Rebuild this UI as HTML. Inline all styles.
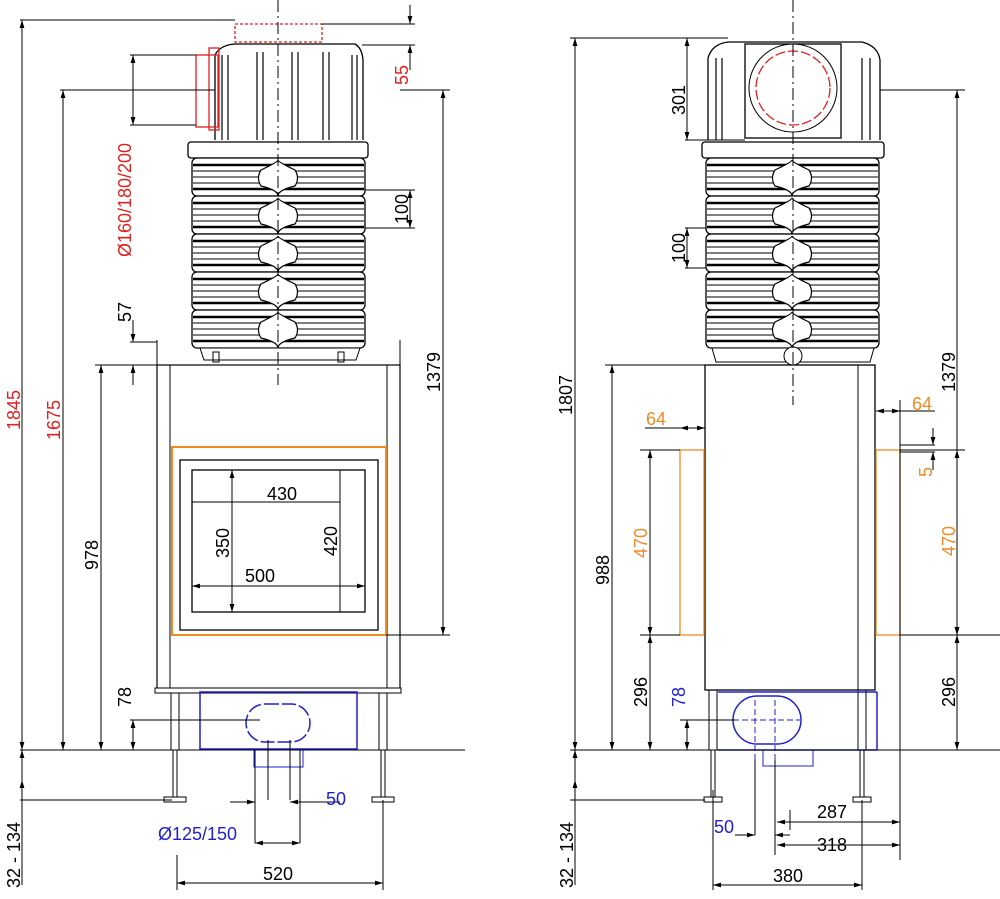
<!DOCTYPE html>
<html><head><meta charset="utf-8"><style>
html,body{margin:0;padding:0;background:#fff;}
svg{display:block;font-family:"Liberation Sans",sans-serif;}
</style></head><body>
<svg width="1000" height="899" viewBox="0 0 1000 899" xmlns="http://www.w3.org/2000/svg">
<defs>
<marker id="a" viewBox="0 0 10 10" refX="10" refY="5" markerWidth="8" markerHeight="8" orient="auto-start-reverse"><path d="M0,2 L10,5 L0,8z" fill="#000"/></marker>
<g id="ringL">
  <rect x="0" y="0" width="173" height="38" rx="5" fill="#fff" stroke="#000" stroke-width="1.3"/>
  <line x1="1" y1="7" x2="172" y2="7" stroke="#000" stroke-width="2.5"/>
  <line x1="1" y1="13" x2="172" y2="13" stroke="#000"/>
  <line x1="1" y1="19" x2="172" y2="19" stroke="#000"/>
  <line x1="1" y1="25" x2="172" y2="25" stroke="#000"/>
  <line x1="1" y1="31" x2="172" y2="31" stroke="#000" stroke-width="2.5"/>
  <path d="M69,12 Q86,4 86,2 Q86,4 103,12 Q108,20 103,28 Q86,32 86,38 Q86,32 69,28 Q64,20 69,12z" fill="#fff" stroke="#000" stroke-width="1.2"/>
</g>
</defs>
<g stroke="#000" fill="none" stroke-width="1">
<path d="M215,140 L215,55 Q220,45 235,44 L355,44 Q362,48 363,60 L363,140" fill="#fff" stroke-width="1.3"/>
<g stroke-width="1.2">
<path d="M222,140 V55 M228,140 V55 M257,140 V52 M263,140 V52 M292,140 V52 M298,140 V52 M323,140 V52 M329,140 V52 M352,140 V55 M357,140 V55"/>
</g>
<rect x="188" y="142" width="180" height="16" rx="3" fill="#fff" stroke-width="1.3"/>
<use href="#ringL" x="192" y="158"/>
<use href="#ringL" x="192" y="196"/>
<use href="#ringL" x="192" y="234"/>
<use href="#ringL" x="192" y="272"/>
<use href="#ringL" x="192" y="310"/>
<path d="M200,348 L360,348 L356,360 L204,360z" fill="#fff"/>
<rect x="213" y="352" width="6" height="10"/><rect x="338" y="352" width="6" height="10"/>
<rect x="157" y="365" width="243" height="325" stroke-width="1.2"/>
<line x1="170" y1="365" x2="170" y2="688"/><line x1="387" y1="365" x2="387" y2="688"/>
<line x1="157" y1="340" x2="157" y2="365"/><line x1="400" y1="340" x2="400" y2="365"/>
<rect x="155" y="688" width="246" height="5" fill="#fff"/>
<rect x="180" y="460" width="198" height="170" stroke-width="1.3"/>
<rect x="192" y="470" width="173" height="142" stroke-width="1.3"/>
<rect x="172" y="447" width="214" height="188" stroke="#f08a24" stroke-width="2"/>
<rect x="171" y="693" width="8" height="57"/><rect x="379" y="693" width="8" height="57"/>
<path d="M173,750 V800 M177,750 V800 M381,750 V800 M385,750 V800"/>
<rect x="164" y="797" width="22" height="5" fill="#fff"/><rect x="372" y="797" width="22" height="5" fill="#fff"/>
<g stroke="#2020d0" stroke-width="1.5">
<rect x="200" y="692" width="157" height="57"/>
<path d="M265,704 h26 a19,19 0 0 1 0,38 h-26 a19,19 0 0 1 0,-38z" stroke-dasharray="14 3"/>
<rect x="254" y="749" width="49" height="18" stroke-width="1"/>
</g>
<path d="M708,140 L708,58 Q712,44 728,42 L862,42 Q878,46 880,60 L880,140" fill="#fff" stroke-width="1.3"/>
<path d="M716,140 V58 M722,140 V58 M862,140 V58 M870,140 V58" stroke-width="1.2"/>
<rect x="745" y="44" width="96" height="94" fill="#fff" stroke-width="1.3"/>
<circle cx="793" cy="88" r="44" fill="#fff"/>
<rect x="702" y="142" width="182" height="16" rx="3" fill="#fff" stroke-width="1.3"/>
<use href="#ringL" x="706" y="158"/>
<use href="#ringL" x="706" y="196"/>
<use href="#ringL" x="706" y="234"/>
<use href="#ringL" x="706" y="272"/>
<use href="#ringL" x="706" y="310"/>
<path d="M712,348 L874,348 L870,362 L716,362z" fill="#fff"/>
<circle cx="793" cy="356" r="9" fill="#fff"/>
<rect x="705" y="365" width="170" height="325" stroke-width="1.3" fill="#fff"/>
<line x1="858" y1="365" x2="858" y2="690"/>
<g stroke="#f08a24" stroke-width="1.3">
<rect x="680" y="450" width="24" height="185"/><rect x="876" y="450" width="24" height="185"/>
</g>
<rect x="709" y="690" width="8" height="60"/><rect x="858" y="690" width="8" height="60"/>
<path d="M711,750 V800 M715,750 V800 M860,750 V800 M864,750 V800"/>
<rect x="704" y="797" width="18" height="5" fill="#fff"/><rect x="853" y="797" width="18" height="5" fill="#fff"/>
<g stroke="#2020d0" stroke-width="1.5">
<line x1="718" y1="692" x2="877" y2="692"/><line x1="718" y1="750" x2="877" y2="750"/><line x1="877" y1="692" x2="877" y2="750"/>
<path d="M757,696 h20 a24,24 0 0 1 0,48 h-20 a24,24 0 0 1 0,-48z"/>
<rect x="763" y="750" width="50" height="16" stroke-width="1"/>
<path d="M755,700 V760 M775,700 V760 M733,720 H800" stroke-dasharray="6 3" stroke-width="1"/>
</g>
</g>
<g stroke="#e02020" fill="none" stroke-width="1.3">
<rect x="235" y="24" width="87" height="18" stroke-dasharray="3 2"/>
<rect x="196" y="55" width="22" height="72"/><rect x="209" y="48" width="10" height="82"/>
<circle cx="793" cy="88" r="37" stroke-dasharray="10 3"/>
</g>
<g stroke="#000" stroke-dasharray="12 4 2 4" stroke-width="1">
<line x1="278" y1="0" x2="278" y2="385"/>
<line x1="793" y1="0" x2="793" y2="405"/>
</g>
<g stroke="#000" stroke-width="1" fill="none">
<path d="M20,750 H465 M20,800 H172 M60,90 H215 M95,365 H157 M130,342 H157 M130,55 H196 M130,125 H196 M20,20 H235 M322,24 H415 M362,45 H415 M365,190 H415 M365,228 H415 M400,90 H450 M386,635 H450 M130,720 H260"/>
<path d="M570,750 H1000 M570,800 H705 M570,38 H728 M685,140 H745 M685,228 H706 M685,268 H706 M605,365 H705 M640,450 H680 M640,635 H680 M880,90 H965 M900,450 H965 M900,635 H1000 M680,720 H735"/>
<line x1="22" y1="20" x2="22" y2="750" marker-start="url(#a)" marker-end="url(#a)"/>
<line x1="63" y1="90" x2="63" y2="750" marker-start="url(#a)" marker-end="url(#a)"/>
<line x1="101" y1="365" x2="101" y2="750" marker-start="url(#a)" marker-end="url(#a)"/>
<line x1="133" y1="720" x2="133" y2="750" marker-start="url(#a)" marker-end="url(#a)"/>
<line x1="133" y1="320" x2="133" y2="342" marker-end="url(#a)"/><line x1="133" y1="385" x2="133" y2="365" marker-end="url(#a)"/>
<line x1="133" y1="55" x2="133" y2="125" marker-start="url(#a)" marker-end="url(#a)"/>
<line x1="410" y1="5" x2="410" y2="24" marker-end="url(#a)"/><line x1="410" y1="70" x2="410" y2="45" marker-end="url(#a)"/>
<line x1="410" y1="190" x2="410" y2="228" marker-start="url(#a)" marker-end="url(#a)"/>
<line x1="443" y1="90" x2="443" y2="635" marker-start="url(#a)" marker-end="url(#a)"/>
<line x1="22" y1="750" x2="22" y2="885" marker-start="url(#a)"/><line x1="22" y1="800" x2="22" y2="780" marker-end="url(#a)"/>
<line x1="192" y1="586" x2="365" y2="586" marker-start="url(#a)" marker-end="url(#a)"/>
<line x1="192" y1="502" x2="340" y2="502"/><line x1="232" y1="470" x2="232" y2="612" marker-start="url(#a)" marker-end="url(#a)"/>
<line x1="340" y1="470" x2="340" y2="612"/>
<line x1="230" y1="802" x2="255" y2="802" marker-end="url(#a)"/><line x1="340" y1="802" x2="290" y2="802" marker-end="url(#a)"/>
<path d="M255,750 V843 M300,750 V843 M268,740 V800 M290,740 V800"/>
<line x1="255" y1="843" x2="300" y2="843" marker-start="url(#a)" marker-end="url(#a)"/>
<path d="M177,855 V890 M383,800 V890"/>
<line x1="177" y1="883" x2="383" y2="883" marker-start="url(#a)" marker-end="url(#a)"/>
<line x1="575" y1="38" x2="575" y2="750" marker-start="url(#a)" marker-end="url(#a)"/>
<line x1="612" y1="365" x2="612" y2="750" marker-start="url(#a)" marker-end="url(#a)"/>
<line x1="650" y1="450" x2="650" y2="635" marker-start="url(#a)" marker-end="url(#a)"/>
<line x1="650" y1="635" x2="650" y2="750" marker-start="url(#a)" marker-end="url(#a)"/>
<line x1="687" y1="720" x2="687" y2="750" marker-start="url(#a)" marker-end="url(#a)"/>
<line x1="687" y1="38" x2="687" y2="140" marker-start="url(#a)" marker-end="url(#a)"/>
<line x1="687" y1="228" x2="687" y2="268" marker-start="url(#a)" marker-end="url(#a)"/>
<line x1="957" y1="90" x2="957" y2="635" marker-start="url(#a)" marker-end="url(#a)"/>
<line x1="957" y1="450" x2="957" y2="635" marker-start="url(#a)" marker-end="url(#a)"/>
<line x1="957" y1="635" x2="957" y2="750" marker-start="url(#a)" marker-end="url(#a)"/>
<line x1="575" y1="750" x2="575" y2="885" marker-start="url(#a)"/><line x1="575" y1="800" x2="575" y2="780" marker-end="url(#a)"/>
<line x1="680" y1="428" x2="705" y2="428" marker-start="url(#a)" marker-end="url(#a)"/><line x1="645" y1="428" x2="680" y2="428"/>
<line x1="876" y1="411" x2="900" y2="411" marker-start="url(#a)" marker-end="url(#a)"/><line x1="900" y1="411" x2="935" y2="411"/>
<line x1="900" y1="400" x2="900" y2="860"/>
<line x1="933" y1="428" x2="933" y2="445" marker-end="url(#a)"/><line x1="933" y1="470" x2="933" y2="452" marker-end="url(#a)"/>
<path d="M900,445 H935 M900,452 H935"/>
<path d="M713,790 V890 M862,800 V890 M755,760 V835 M775,760 V855 M790,810 V830"/>
<line x1="777" y1="822" x2="900" y2="822" marker-start="url(#a)" marker-end="url(#a)"/>
<line x1="777" y1="845" x2="900" y2="845" marker-start="url(#a)" marker-end="url(#a)"/>
<line x1="713" y1="885" x2="862" y2="885" marker-start="url(#a)" marker-end="url(#a)"/>
<line x1="735" y1="835" x2="755" y2="835" marker-end="url(#a)"/><line x1="790" y1="835" x2="775" y2="835" marker-end="url(#a)"/>
</g>
<g font-size="18" fill="#000">
<text transform="translate(20,410) rotate(-90)" fill="#e02020" text-anchor="middle">1845</text>
<text transform="translate(60,420) rotate(-90)" fill="#e02020" text-anchor="middle">1675</text>
<text transform="translate(98,555) rotate(-90)" text-anchor="middle">978</text>
<text transform="translate(131,697) rotate(-90)" text-anchor="middle">78</text>
<text transform="translate(131,312) rotate(-90)" text-anchor="middle">57</text>
<text transform="translate(131,200) rotate(-90)" fill="#e02020" text-anchor="middle">Ø160/180/200</text>
<text transform="translate(408,75) rotate(-90)" fill="#e02020" text-anchor="middle">55</text>
<text transform="translate(408,209) rotate(-90)" text-anchor="middle">100</text>
<text transform="translate(440,372) rotate(-90)" text-anchor="middle">1379</text>
<text transform="translate(20,855) rotate(-90)" text-anchor="middle">32 - 134</text>
<text x="282" y="500" text-anchor="middle">430</text>
<text x="260" y="582" text-anchor="middle">500</text>
<text transform="translate(229,543) rotate(-90)" text-anchor="middle">350</text>
<text transform="translate(337,541) rotate(-90)" text-anchor="middle">420</text>
<text x="326" y="805" fill="#2020d0">50</text>
<text x="158" y="840" fill="#2020d0">Ø125/150</text>
<text x="278" y="880" text-anchor="middle">520</text>
<text transform="translate(572,395) rotate(-90)" text-anchor="middle">1807</text>
<text transform="translate(609,570) rotate(-90)" text-anchor="middle">988</text>
<text transform="translate(647,543) rotate(-90)" fill="#f08a24" text-anchor="middle">470</text>
<text transform="translate(647,692) rotate(-90)" text-anchor="middle">296</text>
<text transform="translate(685,697) rotate(-90)" fill="#2020d0" text-anchor="middle">78</text>
<text transform="translate(685,100) rotate(-90)" text-anchor="middle">301</text>
<text transform="translate(685,248) rotate(-90)" text-anchor="middle">100</text>
<text x="646" y="425" fill="#f08a24">64</text>
<text x="912" y="410" fill="#f08a24">64</text>
<text transform="translate(932,472) rotate(-90)" fill="#f08a24" text-anchor="middle">5</text>
<text transform="translate(955,541) rotate(-90)" fill="#f08a24" text-anchor="middle">470</text>
<text transform="translate(955,692) rotate(-90)" text-anchor="middle">296</text>
<text transform="translate(955,372) rotate(-90)" text-anchor="middle">1379</text>
<text transform="translate(573,855) rotate(-90)" text-anchor="middle">32 - 134</text>
<text x="817" y="818">287</text>
<text x="817" y="851">318</text>
<text x="714" y="833" fill="#2020d0">50</text>
<text x="788" y="882" text-anchor="middle">380</text>
</g>
</svg>
</body></html>
